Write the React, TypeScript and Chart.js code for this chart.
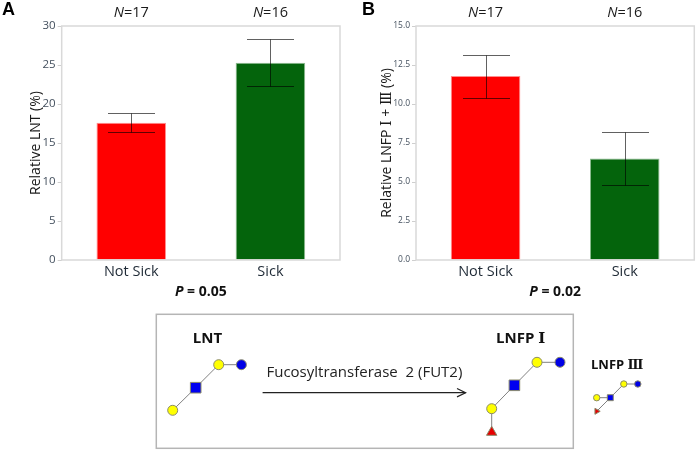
import React, { useEffect, useRef } from "react";
import { Chart, registerables } from "chart.js";

Chart.register(...registerables);

const FONT = '"Open Sans", "DejaVu Serif", "Noto Sans", sans-serif';

const categories = ["Not Sick", "Sick"];
const sampleSizes = ["17", "16"];
const barColors = ["#ff0000", "#04640c"];
const barEdges = ["#ff8f8f", "#8dbb90"];

const lntMeans = [17.6, 25.3];
const lntLow = [16.4, 22.3];
const lntHigh = [18.8, 28.3];
const lntTicksMax = 30;
const lntTickStep = 5;

const lnfpMeans = [11.8, 6.5];
const lnfpLow = [10.4, 4.8];
const lnfpHigh = [13.15, 8.2];
const lnfpTicksMax = 15;
const lnfpTickStep = 2.5;

// Glycan schematics, in the schematic chart's own coordinates
const lntChain = [{ x: 22.7, y: 105.3 }, { x: 45.7, y: 82.7 }, { x: 68.7, y: 59.7 }, { x: 91.4, y: 59.7 }];
const lnfp1Chain = [{ x: 341.7, y: 127.3 }, { x: 341.7, y: 103.7 }, { x: 364.4, y: 80.3 }, { x: 387, y: 57.3 }, { x: 410, y: 57.3 }];
const lnfp3Chain = [{ x: 446.7, y: 92.7 }, { x: 460.3, y: 92.7 }, { x: 473.8, y: 79 }, { x: 487.8, y: 79 }];
const lnfp3Branch = [{ x: 460.3, y: 92.7 }, { x: 446.7, y: 106.3 }];
const arrowShaft = [{ x: 112.6, y: 87.7 }, { x: 315.6, y: 87.7 }];
const arrowHead = [{ x: 307, y: 83.5 }, { x: 315.6, y: 87.7 }, { x: 307, y: 91.9 }];

const bigYellow = [lntChain[0], lntChain[2], lnfp1Chain[1], lnfp1Chain[3]];
const bigBlueCircle = [lntChain[3], lnfp1Chain[4]];
const bigBlueSquare = [lntChain[1], lnfp1Chain[2]];
const bigRedTriangle = [lnfp1Chain[0]];
const smallYellow = [lnfp3Chain[0], lnfp3Chain[2]];
const smallBlueCircle = [lnfp3Chain[3]];
const smallBlueSquare = [lnfp3Chain[1]];
const smallRedTriangle = [lnfp3Branch[1]];

type PanelProps = {
  letter: string;
  letterX: number;
  left: number;
  width: number;
  yWidth: number;
  rightGap: number;
  means: number[];
  low: number[];
  high: number[];
  max: number;
  step: number;
  decimals: number;
  tickSize: number;
  yTitle: string;
  titlePad: number;
  pText: string;
};

function mixedText(ctx: any, parts: [string, string][], cx: number, y: number) {
  let total = 0;
  for (const [font, t] of parts) {
    ctx.font = font;
    total += ctx.measureText(t).width;
  }
  let x = cx - total / 2;
  ctx.textAlign = "left";
  ctx.textBaseline = "middle";
  for (const [font, t] of parts) {
    ctx.font = font;
    ctx.fillText(t, x, y);
    x += ctx.measureText(t).width;
  }
}

function Panel(p: PanelProps) {
  const ref = useRef<HTMLCanvasElement>(null);
  useEffect(() => {
    const overlay = {
      id: "overlay",
      afterDatasetsDraw(chart: any) {
        const { ctx, chartArea: a, scales } = chart;
        const xs = scales.x;
        const ys = scales.y;
        ctx.save();
        ctx.strokeStyle = "#d9d9d9";
        ctx.lineWidth = 1.5;
        ctx.strokeRect(a.left, a.top, a.right - a.left, a.bottom - a.top);
        ctx.strokeStyle = "rgba(0,0,0,0.62)";
        ctx.lineWidth = 1;
        categories.forEach((_, i) => {
          const x = Math.round(xs.getPixelForValue(i)) + 0.5;
          const yl = Math.round(ys.getPixelForValue(p.low[i])) + 0.5;
          const yh = Math.round(ys.getPixelForValue(p.high[i])) + 0.5;
          ctx.beginPath();
          ctx.moveTo(x, yl);
          ctx.lineTo(x, yh);
          ctx.moveTo(x - 23.5, yl);
          ctx.lineTo(x + 23.5, yl);
          ctx.moveTo(x - 23.5, yh);
          ctx.lineTo(x + 23.5, yh);
          ctx.stroke();
        });
        ctx.fillStyle = "#1a1a1a";
        categories.forEach((_, i) => {
          mixedText(
            ctx,
            [
              [`italic 14.5px ${FONT}`, "N"],
              [`14.5px ${FONT}`, "=" + sampleSizes[i]],
            ],
            xs.getPixelForValue(i),
            12.5
          );
        });
        ctx.fillStyle = "#111";
        mixedText(
          ctx,
          [
            [`italic bold 14px ${FONT}`, "P"],
            [`bold 14px ${FONT}`, p.pText],
          ],
          (a.left + a.right) / 2,
          292
        );
        ctx.fillStyle = "#000";
        ctx.font = `bold 18px "Liberation Sans", sans-serif`;
        ctx.textAlign = "left";
        ctx.textBaseline = "middle";
        ctx.fillText(p.letter, p.letterX, 10);
        ctx.restore();
      },
    };
    const chart = new Chart(ref.current!, {
      type: "bar",
      data: {
        labels: categories,
        datasets: [
          {
            data: p.means,
            backgroundColor: barColors,
            borderColor: barEdges,
            borderWidth: 1,
            barPercentage: 0.5,
            categoryPercentage: 1,
          },
        ],
      },
      options: {
        animation: false,
        responsive: false,
        layout: { padding: { top: 26, right: p.rightGap, left: 0, bottom: 0 } },
        plugins: { legend: { display: false }, tooltip: { enabled: false } },
        scales: {
          x: {
            afterFit: (s: any) => {
              s.height = 45;
            },
            border: { display: false },
            grid: { display: false, drawTicks: false },
            ticks: { color: "#1f2a36", padding: 3, font: { family: FONT, size: 14.5 } },
          },
          y: {
            min: 0,
            max: p.max,
            afterFit: (s: any) => {
              s.width = p.yWidth;
            },
            border: { display: false },
            grid: { drawOnChartArea: false, drawTicks: true, tickLength: 4, tickColor: "#cfcfcf" },
            ticks: {
              stepSize: p.step,
              color: "#44505e",
              padding: 2,
              font: { family: FONT, size: p.tickSize },
              callback: (v: any) => Number(v).toFixed(p.decimals),
            },
            title: {
              display: true,
              text: p.yTitle,
              color: "#1a1a1a",
              font: { family: FONT, size: 14 },
              padding: { top: p.titlePad, bottom: 0 },
            },
          },
        },
      },
      plugins: [overlay],
    } as any);
    return () => chart.destroy();
  }, []);
  return (
    <canvas
      ref={ref}
      width={p.width}
      height={305}
      style={{ position: "absolute", left: p.left, top: 0, width: p.width, height: 305 }}
    />
  );
}

function Schematic() {
  const ref = useRef<HTMLCanvasElement>(null);
  useEffect(() => {
    const line = (data: any[], color: string, width: number) => ({
      type: "line",
      data,
      borderColor: color,
      borderWidth: width,
      pointRadius: 0,
      showLine: true,
      order: 5,
    });
    const nodes = (data: any[], style: string, fill: string, radius: number, rotation = 0) => ({
      type: "scatter",
      data,
      pointStyle: style,
      pointRotation: rotation,
      backgroundColor: fill,
      borderColor: "#8a8a6a",
      borderWidth: 1,
      pointRadius: radius,
      order: 1,
    });
    const overlay = {
      id: "labels",
      afterDatasetsDraw(chart: any) {
        const { ctx, scales } = chart;
        const X = (v: number) => scales.x.getPixelForValue(v);
        const Y = (v: number) => scales.y.getPixelForValue(v);
        ctx.save();
        ctx.strokeStyle = "#b5b5b5";
        ctx.lineWidth = 1.5;
        ctx.strokeRect(X(6.3), Y(9.3), X(423.3) - X(6.3), Y(143.3) - Y(9.3));
        ctx.fillStyle = "#111";
        ctx.textAlign = "center";
        ctx.textBaseline = "middle";
        ctx.font = `bold 15px ${FONT}`;
        ctx.fillText("LNT", X(57.5), Y(33.5));
        ctx.fillText("LNFP Ⅰ", X(370.6), Y(33.5));
        ctx.font = `bold 13px ${FONT}`;
        ctx.fillText("LNFP Ⅲ", X(467.2), Y(60.5));
        ctx.fillStyle = "#222";
        ctx.font = `15px ${FONT}`;
        ctx.fillText("Fucosyltransferase  2 (FUT2)", X(214.4), Y(68));
        ctx.restore();
      },
    };
    const chart = new Chart(ref.current!, {
      type: "scatter",
      data: {
        datasets: [
          line(lntChain, "#808080", 1),
          line(lnfp1Chain, "#808080", 1),
          line(lnfp3Chain, "#808080", 1),
          line(lnfp3Branch, "#808080", 1),
          line(arrowShaft, "#222", 1.2),
          line(arrowHead, "#222", 1.2),
          nodes(bigYellow, "circle", "#ffff00", 5),
          nodes(bigBlueCircle, "circle", "#0000e6", 5),
          nodes(bigBlueSquare, "rect", "#0000f0", 7.5),
          nodes(bigRedTriangle, "triangle", "#e60000", 6),
          nodes(smallYellow, "circle", "#ffff00", 3.2),
          nodes(smallBlueCircle, "circle", "#0000e6", 3.2),
          nodes(smallBlueSquare, "rect", "#0000f0", 4.2),
          nodes(smallRedTriangle, "triangle", "#e60000", 3.5, 90),
        ],
      },
      options: {
        animation: false,
        responsive: false,
        layout: { padding: 0, autoPadding: false },
        plugins: { legend: { display: false }, tooltip: { enabled: false } },
        scales: {
          x: { type: "linear", min: 0, max: 547, display: false },
          y: { type: "linear", min: 0, max: 146, reverse: true, display: false },
        },
      },
      plugins: [overlay],
    } as any);
    return () => chart.destroy();
  }, []);
  return (
    <canvas
      ref={ref}
      width={547}
      height={146}
      style={{ position: "absolute", left: 150, top: 305, width: 547, height: 146 }}
    />
  );
}

export default function App() {
  return (
    <div style={{ position: "absolute", left: 0, top: 0, width: 697, height: 451, background: "#fff", overflow: "hidden" }}>
      <Panel
        letter="A"
        letterX={2}
        left={0}
        width={350}
        yWidth={61.7}
        rightGap={10}
        means={lntMeans}
        low={lntLow}
        high={lntHigh}
        max={lntTicksMax}
        step={lntTickStep}
        decimals={0}
        tickSize={11.5}
        yTitle="Relative LNT (%)"
        titlePad={28}
        pText=" = 0.05"
      />
      <Panel
        letter="B"
        letterX={12}
        left={350}
        width={347}
        yWidth={66}
        rightGap={2.7}
        means={lnfpMeans}
        low={lnfpLow}
        high={lnfpHigh}
        max={lnfpTicksMax}
        step={lnfpTickStep}
        decimals={1}
        tickSize={8.5}
        yTitle="Relative LNFP Ⅰ + Ⅲ (%)"
        titlePad={29}
        pText=" = 0.02"
      />
      <Schematic />
    </div>
  );
}
